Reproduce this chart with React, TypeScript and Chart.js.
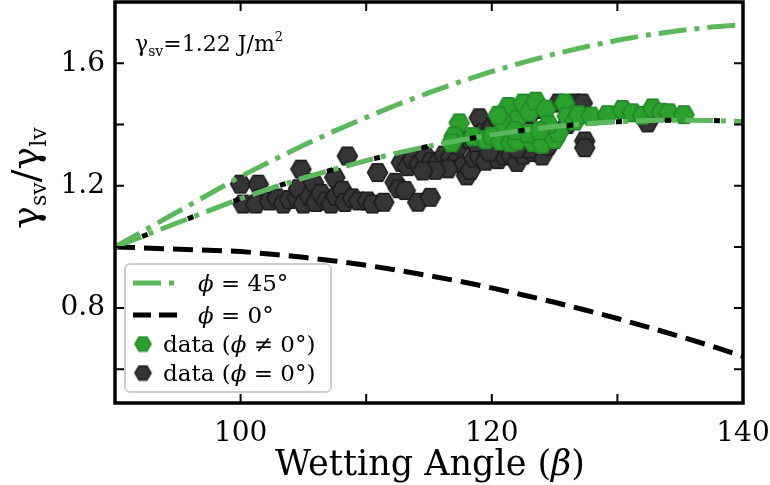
import React, { useEffect, useRef } from "react";
import { Chart, registerables } from "chart.js";

Chart.register(...registerables);

// Curves (wetting angle β in degrees, γsv/γlv)
const curveBeta = [90, 100, 102.5, 105, 107.5, 110, 112.5, 115, 117.5, 120, 122.5, 125, 127.5, 130, 132.5, 135, 137.5, 140];
const phi45Ratio = [1.0, 1.23, 1.282, 1.332, 1.379, 1.423, 1.465, 1.504, 1.54, 1.573, 1.603, 1.63, 1.654, 1.675, 1.693, 1.707, 1.718, 1.726];
const phi0Ratio = [1.0, 0.985, 0.976, 0.966, 0.954, 0.94, 0.924, 0.906, 0.887, 0.866, 0.843, 0.819, 0.793, 0.766, 0.737, 0.707, 0.676, 0.643];
const middleRatio = [1.0, 1.158, 1.193, 1.225, 1.254, 1.282, 1.307, 1.329, 1.349, 1.366, 1.381, 1.393, 1.402, 1.409, 1.413, 1.414, 1.413, 1.409];

// Data (φ ≠ 0°)
const greenBeta = [117.4, 117.0, 116.8, 118.5, 119.5, 120.0, 120.7, 121.3, 121.5, 122.0, 122.0, 122.5, 123.0, 123.3, 123.5, 124.0, 124.3, 125.0, 125.3, 125.8, 126.0, 126.6, 126.9, 127.9, 129.2, 130.4, 131.2, 132.0, 132.8, 133.5, 134.1, 135.3, 121.0, 122.8, 124.5, 120.5, 123.8, 121.8];
const greenRatio = [1.405, 1.362, 1.34, 1.36, 1.35, 1.362, 1.346, 1.459, 1.34, 1.416, 1.346, 1.47, 1.44, 1.341, 1.476, 1.335, 1.45, 1.351, 1.373, 1.47, 1.427, 1.411, 1.432, 1.427, 1.432, 1.449, 1.438, 1.43, 1.454, 1.44, 1.438, 1.432, 1.4, 1.37, 1.4, 1.43, 1.38, 1.38];

// Data (φ = 0°)
const blackBeta = [100.2, 100.0, 101.4, 101.6, 101.2, 102.3, 102.9, 103.4, 103.9, 104.5, 104.6, 104.8, 105.0, 105.5, 105.8, 106.0, 106.4, 106.8, 107.2, 107.5, 107.6, 108.1, 108.3, 108.5, 108.9, 109.4, 110.1, 110.5, 110.9, 111.4, 112.3, 112.6, 113.1, 114.1, 115.1, 112.8, 113.3, 113.7, 114.2, 114.7, 115.2, 115.7, 116.2, 116.7, 117.2, 117.7, 118.0, 118.3, 118.6, 119.0, 119.5, 120.0, 120.5, 121.0, 121.5, 122.0, 122.5, 123.3, 124.0, 117.4, 118.2, 118.7, 119.0, 119.3, 120.0, 120.6, 121.6, 123.0, 124.0, 125.3, 126.6, 127.2, 124.6, 127.4, 127.4, 126.0, 124.5, 123.0, 122.0, 132.4, 119.8, 116.5, 115.5, 114.5];
const blackRatio = [1.14, 1.205, 1.205, 1.16, 1.14, 1.15, 1.16, 1.14, 1.155, 1.16, 1.19, 1.254, 1.14, 1.165, 1.21, 1.145, 1.175, 1.15, 1.14, 1.227, 1.165, 1.185, 1.145, 1.297, 1.16, 1.15, 1.15, 1.14, 1.243, 1.146, 1.211, 1.19, 1.184, 1.146, 1.162, 1.276, 1.262, 1.286, 1.27, 1.297, 1.28, 1.276, 1.3, 1.292, 1.28, 1.265, 1.232, 1.25, 1.29, 1.297, 1.28, 1.308, 1.285, 1.297, 1.3, 1.276, 1.3, 1.308, 1.297, 1.33, 1.35, 1.341, 1.422, 1.373, 1.389, 1.41, 1.416, 1.432, 1.449, 1.47, 1.47, 1.47, 1.373, 1.346, 1.324, 1.4, 1.33, 1.32, 1.32, 1.405, 1.31, 1.255, 1.25, 1.248];

// Axes
const xTickMarks = [100, 110, 120, 130];
const xTickLabels = [100, 120, 140];
const yTickMarks = [0.6, 0.8, 1.0, 1.2, 1.4, 1.6];
const yTickLabels = [0.8, 1.2, 1.6];

const FONT = '"DejaVu Serif", serif';
const LINE_GREEN = "rgb(92,184,92)";
const DASHDOT = [28, 8, 5, 8];
const DASHED = [20, 9];

type Run = { text: string; font: string; dy?: number };

function drawRuns(ctx: CanvasRenderingContext2D, runs: Run[], x: number, y: number, align: "left" | "center") {
  let total = 0;
  const widths = runs.map((r) => {
    ctx.font = r.font;
    const w = ctx.measureText(r.text).width;
    total += w;
    return w;
  });
  let cx = align === "center" ? x - total / 2 : x;
  ctx.textBaseline = "alphabetic";
  ctx.textAlign = "left";
  runs.forEach((r, i) => {
    ctx.font = r.font;
    ctx.fillText(r.text, cx, y + (r.dy || 0));
    cx += widths[i];
  });
}

function makeHex(fill: string, stroke: string, r: number) {
  const c = document.createElement("canvas");
  const w = Math.ceil(2 * r + 3);
  const h = Math.ceil(Math.sqrt(3) * r + 3);
  c.width = w;
  c.height = h;
  const g = c.getContext("2d")!;
  g.beginPath();
  for (let k = 0; k < 6; k++) {
    const a = (Math.PI / 3) * k;
    const px = w / 2 + r * Math.cos(a);
    const py = h / 2 + r * Math.sin(a);
    if (k === 0) g.moveTo(px, py);
    else g.lineTo(px, py);
  }
  g.closePath();
  g.fillStyle = fill;
  g.fill();
  g.lineWidth = 1.5;
  g.strokeStyle = stroke;
  g.stroke();
  return c;
}

const decorPlugin = {
  id: "decor",
  afterDatasetsDraw(chart: any) {
    const { ctx, chartArea: a, scales } = chart;
    const xs = scales.x;
    const ys = scales.y;
    ctx.save();
    // frame
    ctx.strokeStyle = "#000";
    ctx.lineWidth = 3.5;
    ctx.setLineDash([]);
    ctx.strokeRect(a.left, a.top, a.right - a.left, a.bottom - a.top);
    // inward ticks
    ctx.lineWidth = 2;
    const TL = 9;
    xTickMarks.forEach((t) => {
      const px = xs.getPixelForValue(t);
      ctx.beginPath();
      ctx.moveTo(px, a.bottom);
      ctx.lineTo(px, a.bottom - TL);
      ctx.moveTo(px, a.top);
      ctx.lineTo(px, a.top + TL);
      ctx.stroke();
    });
    yTickMarks.forEach((t) => {
      const py = ys.getPixelForValue(t);
      ctx.beginPath();
      ctx.moveTo(a.left, py);
      ctx.lineTo(a.left + TL, py);
      ctx.moveTo(a.right, py);
      ctx.lineTo(a.right - TL, py);
      ctx.stroke();
    });

    // annotation
    ctx.fillStyle = "#000";
    drawRuns(ctx, [
      { text: "γ", font: `22px ${FONT}` },
      { text: "sv", font: `14px ${FONT}`, dy: 5 },
      { text: "=1.22 J/m", font: `22px ${FONT}` },
      { text: "2", font: `13px ${FONT}`, dy: -10 },
    ], a.left + 20, 51, "left");

    // legend
    const lx = 125, ly = 264, lw = 206, lh = 128;
    ctx.beginPath();
    ctx.roundRect(lx, ly, lw, lh, 5);
    ctx.fillStyle = "rgba(255,255,255,0.85)";
    ctx.fill();
    ctx.lineWidth = 2;
    ctx.strokeStyle = "#cccccc";
    ctx.stroke();

    const rows = [283, 315, 344, 373];
    ctx.lineWidth = 5;
    ctx.lineCap = "butt";
    ctx.strokeStyle = LINE_GREEN;
    ctx.setLineDash(DASHDOT);
    ctx.beginPath();
    ctx.moveTo(133, rows[0]);
    ctx.lineTo(179, rows[0]);
    ctx.stroke();
    ctx.strokeStyle = "#000";
    ctx.setLineDash([18, 8]);
    ctx.beginPath();
    ctx.moveTo(133, rows[1]);
    ctx.lineTo(179, rows[1]);
    ctx.stroke();
    ctx.setLineDash([]);
    const gh = makeHex("#2ca02c", "#23862a", 8);
    const bh = makeHex("#353535", "#1c1c1c", 8);
    ctx.drawImage(gh, 143 - gh.width / 2, rows[2] - gh.height / 2);
    ctx.drawImage(bh, 143 - bh.width / 2, rows[3] - bh.height / 2);

    ctx.fillStyle = "#000";
    const F = `23px ${FONT}`;
    const FI = `italic 23px ${FONT}`;
    const off = 8;
    drawRuns(ctx, [{ text: "ϕ", font: FI }, { text: " = 45°", font: F }], 198, rows[0] + off, "left");
    drawRuns(ctx, [{ text: "ϕ", font: FI }, { text: " = 0°", font: F }], 198, rows[1] + off, "left");
    drawRuns(ctx, [{ text: "data (", font: F }, { text: "ϕ", font: FI }, { text: " ≠ 0°)", font: F }], 163, rows[2] + off, "left");
    drawRuns(ctx, [{ text: "data (", font: F }, { text: "ϕ", font: FI }, { text: " = 0°)", font: F }], 163, rows[3] + off, "left");

    // x title
    drawRuns(ctx, [
      { text: "Wetting Angle (", font: `35px ${FONT}` },
      { text: "β", font: `italic 35px ${FONT}` },
      { text: ")", font: `35px ${FONT}` },
    ], 430, 475, "center");

    // y title
    ctx.translate(38, 178);
    ctx.rotate(-Math.PI / 2);
    drawRuns(ctx, [
      { text: "γ", font: `38px ${FONT}` },
      { text: "sv", font: `22px ${FONT}`, dy: 8 },
      { text: "/", font: `38px ${FONT}` },
      { text: "γ", font: `38px ${FONT}` },
      { text: "lv", font: `22px ${FONT}`, dy: 8 },
    ], 0, 0, "center");
    ctx.restore();
  },
};

export default function App() {
  const ref = useRef<HTMLCanvasElement>(null);
  useEffect(() => {
    document.body.style.margin = "0";
    const canvas = ref.current!;
    const greenHex = makeHex("#2ca02c", "#23862a", 10);
    const blackHex = makeHex("#353535", "#1c1c1c", 10);
    const pts = (xs: number[], ys: number[]) => xs.map((x, i) => ({ x, y: ys[i] }));
    const lineBase = { type: "line", pointRadius: 0, borderWidth: 5, tension: 0, fill: false };
    const chart = new Chart(canvas, {
      type: "scatter",
      data: {
        datasets: [
          { ...lineBase, label: "ϕ = 45°", data: pts(curveBeta, phi45Ratio), borderColor: LINE_GREEN, borderDash: DASHDOT, order: 0 },
          { ...lineBase, label: "middle (green)", data: pts(curveBeta, middleRatio), borderColor: LINE_GREEN, borderDash: DASHDOT, order: 0 },
          { ...lineBase, label: "ϕ = 0°", data: pts(curveBeta, phi0Ratio), borderColor: "#000", borderDash: DASHED, order: 1 },
          { ...lineBase, label: "middle (black)", data: pts(curveBeta, middleRatio), borderColor: "#000", borderDash: [6, 43], borderDashOffset: -29, order: 1 },
          { type: "scatter", label: "data (ϕ ≠ 0°)", data: pts(greenBeta, greenRatio), pointStyle: greenHex, pointRadius: 10, order: 2 },
          { type: "scatter", label: "data (ϕ = 0°)", data: pts(blackBeta, blackRatio), pointStyle: blackHex, pointRadius: 10, order: 3 },
        ] as any,
      },
      options: {
        animation: false,
        responsive: false,
        devicePixelRatio: 1,
        layout: { autoPadding: false, padding: { top: 2, right: 27, bottom: 0, left: 0 } },
        plugins: { legend: { display: false }, tooltip: { enabled: false } },
        scales: {
          x: {
            type: "linear",
            min: 90,
            max: 140,
            grid: { display: false, drawTicks: false },
            border: { display: false },
            ticks: {
              stepSize: 10,
              padding: 14,
              color: "#000",
              font: { family: "DejaVu Serif", size: 28 },
              maxRotation: 0,
              callback: (v: any) => (xTickLabels.some((t) => Math.abs(t - v) < 1e-6) ? String(v) : ""),
            },
            afterFit: (s: any) => {
              s.height = 82;
              s.paddingLeft = 0;
              s.paddingRight = 0;
            },
          },
          y: {
            type: "linear",
            min: 0.49,
            max: 1.8,
            grid: { display: false, drawTicks: false },
            border: { display: false },
            ticks: {
              stepSize: 0.2,
              padding: 10,
              color: "#000",
              font: { family: "DejaVu Serif", size: 28 },
              callback: (v: any) => {
                const t = yTickLabels.find((q) => Math.abs(q - v) < 1e-6);
                return t !== undefined ? t.toFixed(1) : "";
              },
            },
            afterFit: (s: any) => {
              s.width = 115;
              s.paddingTop = 0;
              s.paddingBottom = 0;
            },
          },
        },
      } as any,
      plugins: [decorPlugin],
    });
    return () => chart.destroy();
  }, []);
  return (
    <div style={{ width: 770, height: 485 }}>
      <canvas ref={ref} width={770} height={485} />
    </div>
  );
}
